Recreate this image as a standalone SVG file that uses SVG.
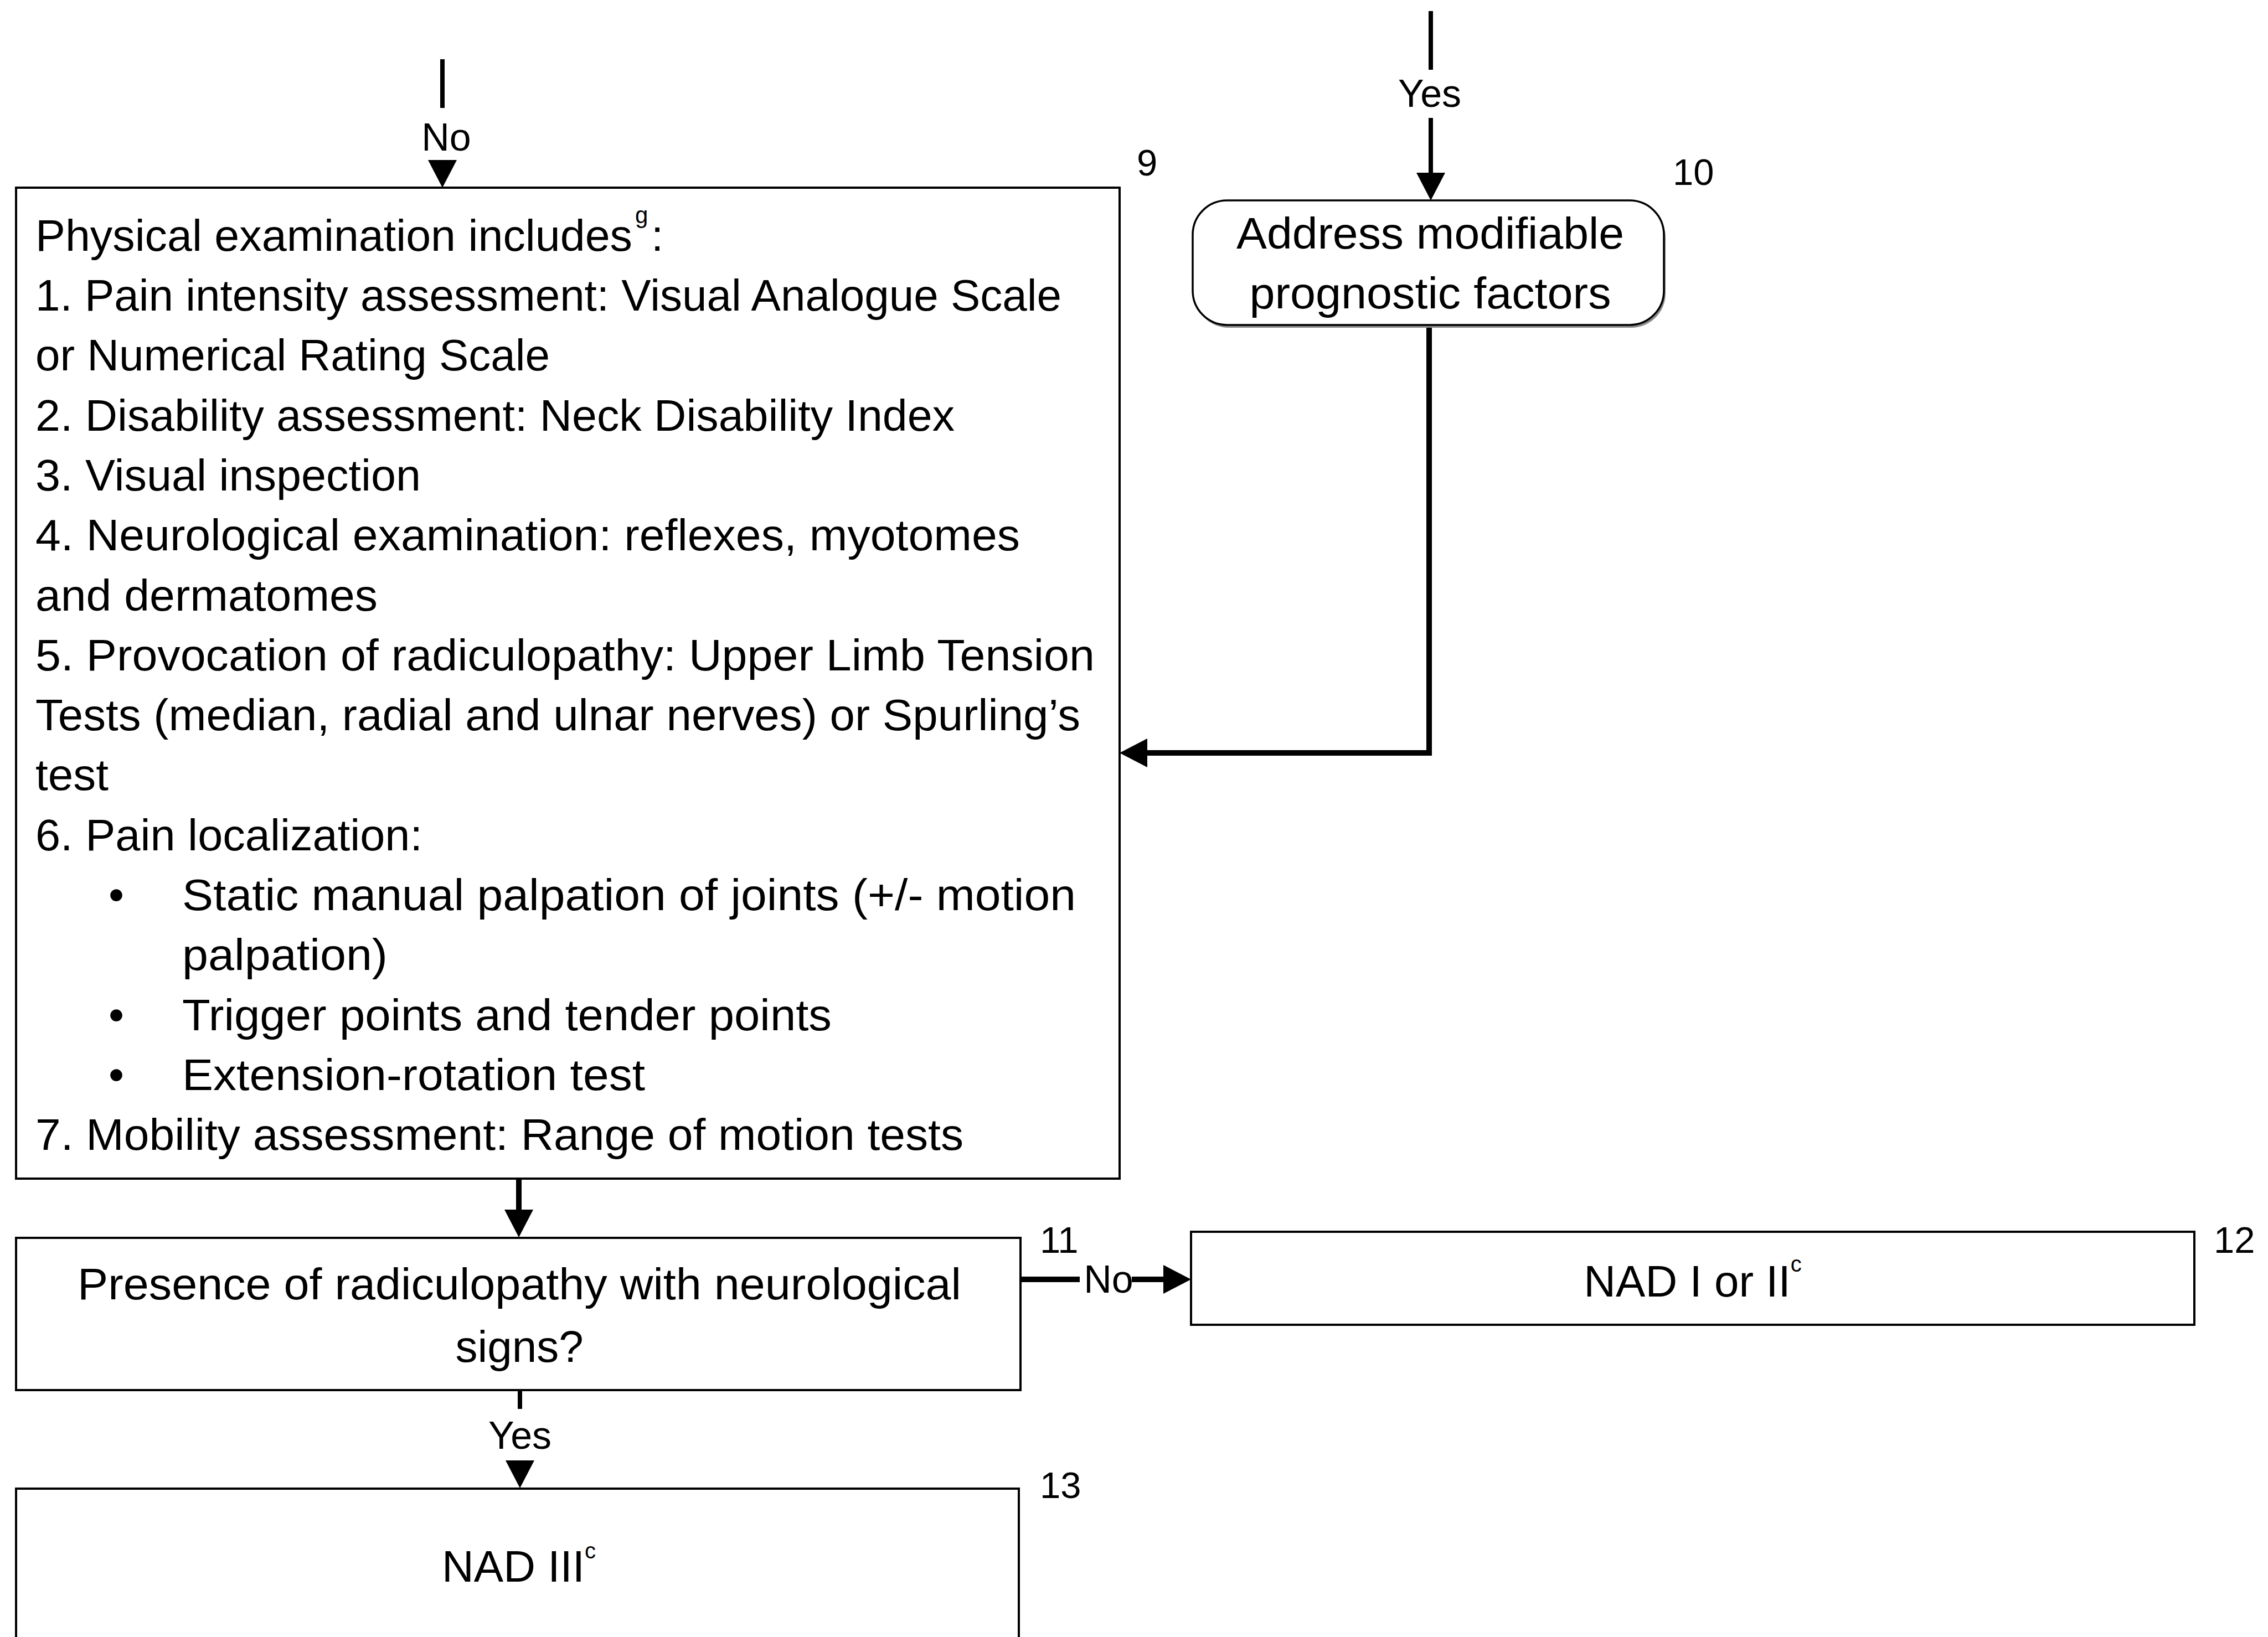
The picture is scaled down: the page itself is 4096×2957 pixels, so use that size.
<svg xmlns="http://www.w3.org/2000/svg" width="4096" height="2957" viewBox="0 0 4096 2957">
<style>
text{font-family:"Liberation Sans",Arial,sans-serif;fill:#000}
.body{font-size:80px}
.sup{font-size:42px}
.lbl{font-size:70px;text-anchor:middle}
.num{font-size:67px}
.mid{text-anchor:middle}
.box{fill:#fff;stroke:#000;stroke-width:4}
.shadow{fill:#8a8a8a;stroke:none}
.con{fill:none;stroke:#000;stroke-width:10;stroke-linejoin:miter}
.thin{stroke-width:8}
</style>
<defs>
<path id="ah" d="M-26,-50 L26,-50 L0,0 Z" fill="#000"/>
</defs>
<rect x="0" y="0" width="4096" height="2957" fill="#fff"/>

<g id="connectors">
<line class="con thin" x1="799" y1="107" x2="799" y2="195"/>
<text class="lbl" x="806" y="272">No</text>
<use href="#ah" transform="translate(799,339)"/>

<line class="con thin" x1="2584" y1="20" x2="2584" y2="126"/>
<text class="lbl" x="2582" y="193">Yes</text>
<line class="con thin" x1="2584" y1="213" x2="2584" y2="312"/>
<use href="#ah" transform="translate(2584,362)"/>

<polyline class="con" points="2581,587 2581,1360 2070,1360"/>
<use href="#ah" transform="translate(2022,1360) rotate(90)"/>

<line class="con" x1="937" y1="2129" x2="937" y2="2188"/>
<use href="#ah" transform="translate(937,2235)"/>

<line class="con" x1="1843" y1="2311" x2="1950" y2="2311"/>
<text class="lbl" x="2002" y="2335">No</text>
<line class="con" x1="2044" y1="2311" x2="2103" y2="2311"/>
<use href="#ah" transform="translate(2151,2311) rotate(-90)"/>

<line class="con thin" x1="939" y1="2491" x2="939" y2="2545"/>
<text class="lbl" x="939" y="2617">Yes</text>
<use href="#ah" transform="translate(939,2688)"/>
</g>

<g id="node9">
<rect class="box" x="29" y="339" width="1993" height="1790"/>
<text class="num" x="2053" y="317">9</text>
<text class="body" x="64" y="453" textLength="1078" lengthAdjust="spacingAndGlyphs">Physical examination includes</text>
<text class="sup" x="1147" y="403">g</text>
<text class="body" x="1176" y="453">:</text>
<text class="body" x="64" y="561" textLength="1853" lengthAdjust="spacingAndGlyphs">1. Pain intensity assessment: Visual Analogue Scale</text>
<text class="body" x="64" y="669" textLength="929" lengthAdjust="spacingAndGlyphs">or Numerical Rating Scale</text>
<text class="body" x="64" y="778" textLength="1660" lengthAdjust="spacingAndGlyphs">2. Disability assessment: Neck Disability Index</text>
<text class="body" x="64" y="886" textLength="696" lengthAdjust="spacingAndGlyphs">3. Visual inspection</text>
<text class="body" x="64" y="994" textLength="1778" lengthAdjust="spacingAndGlyphs">4. Neurological examination: reflexes, myotomes</text>
<text class="body" x="64" y="1103" textLength="618" lengthAdjust="spacingAndGlyphs">and dermatomes</text>
<text class="body" x="64" y="1211" textLength="1913" lengthAdjust="spacingAndGlyphs">5. Provocation of radiculopathy: Upper Limb Tension</text>
<text class="body" x="64" y="1319" textLength="1887" lengthAdjust="spacingAndGlyphs">Tests (median, radial and ulnar nerves) or Spurling’s</text>
<text class="body" x="64" y="1427" textLength="132" lengthAdjust="spacingAndGlyphs">test</text>
<text class="body" x="64" y="1536" textLength="699" lengthAdjust="spacingAndGlyphs">6. Pain localization:</text>
<text class="body" x="196" y="1644">•</text>
<text class="body" x="329" y="1644" textLength="1614" lengthAdjust="spacingAndGlyphs">Static manual palpation of joints (+/- motion</text>
<text class="body" x="329" y="1752" textLength="371" lengthAdjust="spacingAndGlyphs">palpation)</text>
<text class="body" x="196" y="1861">•</text>
<text class="body" x="329" y="1861" textLength="1173" lengthAdjust="spacingAndGlyphs">Trigger points and tender points</text>
<text class="body" x="196" y="1969">•</text>
<text class="body" x="329" y="1969" textLength="836" lengthAdjust="spacingAndGlyphs">Extension-rotation test</text>
<text class="body" x="64" y="2077" textLength="1676" lengthAdjust="spacingAndGlyphs">7. Mobility assessment: Range of motion tests</text>
</g>

<g id="node10">
<rect class="shadow" x="2157" y="367" width="851" height="225" rx="62" ry="62"/>
<rect class="box" x="2154" y="362" width="851" height="225" rx="62" ry="62" style="stroke-width:3.5"/>
<text class="num" x="3021" y="334">10</text>
<text class="body mid" x="2583" y="449" textLength="700" lengthAdjust="spacingAndGlyphs">Address modifiable</text>
<text class="body mid" x="2583" y="557" textLength="653" lengthAdjust="spacingAndGlyphs">prognostic factors</text>
</g>

<g id="node11">
<rect class="box" x="29" y="2236" width="1814" height="275"/>
<text class="num" x="1878" y="2263">11</text>
<text class="body mid" x="938" y="2347" textLength="1596" lengthAdjust="spacingAndGlyphs">Presence of radiculopathy with neurological</text>
<text class="body mid" x="938" y="2460">signs?</text>
</g>

<g id="node12">
<rect class="box" x="2151" y="2225" width="1812" height="168"/>
<text class="num" x="3998" y="2263">12</text>
<text class="body mid" x="3057" y="2342">NAD I or II<tspan font-size="40" dy="-45">c</tspan></text>
</g>

<g id="node13">
<rect class="box" x="29" y="2689" width="1811" height="300"/>
<text class="num" x="1878" y="2706">13</text>
<text class="body mid" x="937" y="2857">NAD III<tspan font-size="40" dy="-42">c</tspan></text>
</g>
</svg>
